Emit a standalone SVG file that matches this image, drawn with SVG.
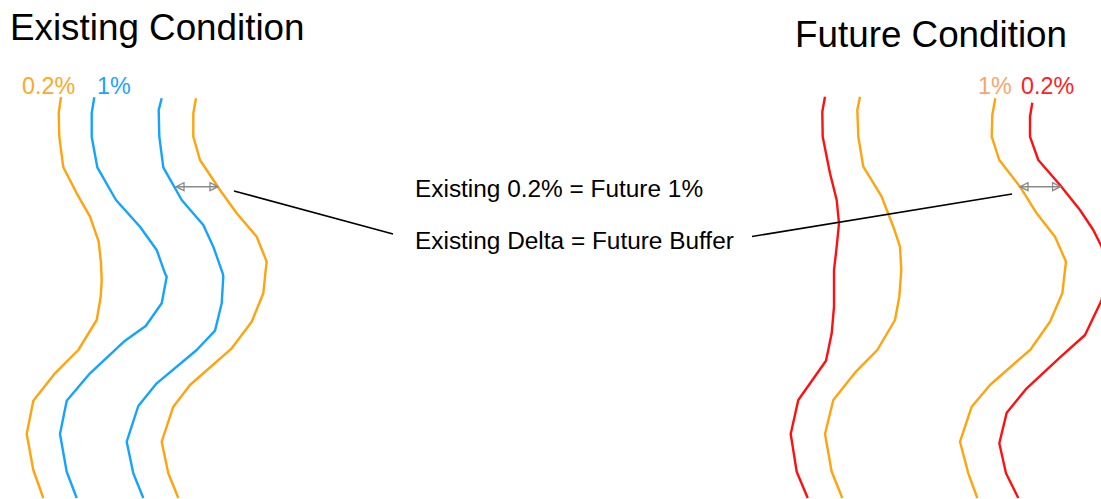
<svg xmlns="http://www.w3.org/2000/svg" width="1101" height="499" viewBox="0 0 1101 499">
<style>
text{font-family:"Liberation Sans",Arial,sans-serif;}
.title{font-size:36.8px;fill:#000;}
.note{font-size:24.4px;fill:#000;}
.lbl{font-size:23.3px;}
.ln{fill:none;stroke-width:2.4;stroke-linejoin:round;stroke-linecap:butt;}
.org{stroke:#FFA30F;}
.blu{stroke:#14A4FF;}
.red{stroke:#FF1010;}
.leader{fill:none;stroke:#000;stroke-width:1.6;}
.dim{fill:none;stroke:#8A8A8A;stroke-width:1.6;marker-start:url(#tri);marker-end:url(#tri);}
</style>
<defs>
<marker id="tri" viewBox="0 0 10 10" refX="9" refY="5" markerWidth="10" markerHeight="10" markerUnits="userSpaceOnUse" orient="auto-start-reverse">
<path d="M1,1 L9,5 L1,9 Z" fill="none" stroke="#8A8A8A" stroke-width="1.3"/>
</marker>
</defs>
<rect width="1101" height="499" fill="#fff"/>
<g id="existing-title"><text class="title" x="10" y="39.5">Existing Condition</text></g>
<g id="future-title"><text class="title" x="795" y="47">Future Condition</text></g>
<g id="existing-labels">
<text class="lbl" x="22" y="94" fill="#FFA726">0.2%</text>
<text class="lbl" x="97" y="94" fill="#1AA3FF">1%</text>
</g>
<g id="future-labels">
<text class="lbl" x="978" y="93.5" fill="#F7A56E">1%</text>
<text class="lbl" x="1021" y="93.5" fill="#FF2020">0.2%</text>
</g>
<g id="existing-lines">
<polyline class="ln org" points="61,97 58.7,113 59.3,136.7 63.3,167.3 76.7,193.3 90,216.7 98.7,241.7 101,263 101.7,280 100.7,296.7 96.7,320 78.3,350 55,373.3 33.3,400.7 26.7,434 33.3,470 43.3,498"/>
<polyline class="ln blu" points="94.3,97.3 91.7,113.3 91.7,136.7 97.3,167.3 116,200 140,226.7 156.7,250 165,273.3 166.7,276.7 161.7,303.3 145.7,326 125,340.7 90,373.3 66.7,400.7 60,434 66.7,471.7 76.7,498"/>
<polyline class="ln blu" points="161.7,98.3 158.7,110 159.3,136.7 163.3,167.3 181.7,200 203.3,225 213.3,246.7 222.7,273.3 223.3,276.7 221.7,303.3 215,330.7 196.7,350 156.7,383.3 138.3,406 126.7,441.7 133.3,473.3 143.3,498"/>
<polyline class="ln org" points="196,98.3 193.3,113.3 193.3,136.7 200,160 220,190 236.7,213.3 256.7,236.7 266.7,261.7 265.7,270 263.3,293.3 251.7,321.7 231.7,348.3 190,385 173.3,406.7 161.7,441.7 168.3,473.3 178.3,498"/>
</g>
<g id="future-lines">
<polyline class="ln red" points="825,96.7 822.3,111.7 822.7,136.7 830,173.3 836.7,200 839,223.3 836.7,246.7 834,270 834,306.7 831.7,333.3 826,360.7 798.3,400 790.7,434 796.7,471.7 807.7,498"/>
<polyline class="ln org" points="860,96.7 857.3,110 858.3,136.7 863.3,166.7 881.7,196.7 893.3,226.7 900,246.7 901.3,270 899.3,296.7 895,320 877.3,350 855,372.7 833.3,400 825,434 831.7,471.7 842.3,498"/>
<polyline class="ln org" points="995.3,98.3 992.3,115 991.7,136.7 999.3,160 1020,186.7 1036.7,213.3 1055,236.7 1066,261.7 1065,270 1062.3,293.3 1050,321.7 1030.7,349.3 990,385 971.7,406.7 960,441.7 968.3,473.3 977.3,498"/>
<polyline class="ln red" points="1032.3,102.7 1030,116.7 1030,136.7 1038.3,160 1060,185 1080,210 1093.3,230 1101.7,246.7 1106,270 1101.7,300 1085,335 1060,357.3 1026.7,388.3 1006.7,412.7 999.3,443.3 1006,473.3 1018.3,498"/>
</g>
<g id="notes">
<text class="note" x="415" y="196.5">Existing 0.2% = Future 1%</text>
<text class="note" x="415" y="248.5">Existing Delta = Future Buffer</text>
</g>
<g id="connectors">
<line class="dim" x1="176" y1="186.7" x2="218" y2="186.7"/>
<line class="dim" x1="1020" y1="186.7" x2="1060.5" y2="186.7"/>
<line class="leader" x1="234" y1="191" x2="393" y2="234"/>
<line class="leader" x1="752" y1="236.5" x2="1012" y2="194"/>
</g>
</svg>
